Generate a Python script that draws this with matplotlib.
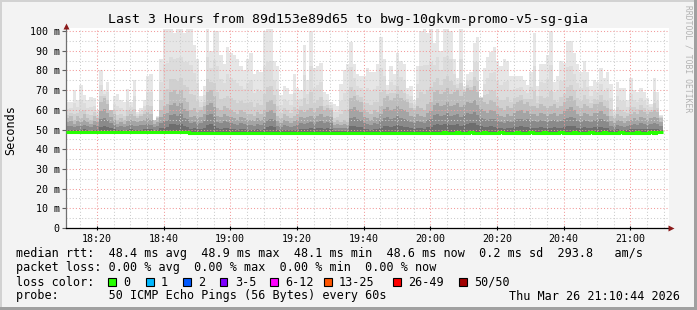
import numpy as np
import matplotlib
matplotlib.use("Agg")
import matplotlib.pyplot as plt
from matplotlib.patches import Rectangle
from matplotlib.ticker import FixedLocator, MultipleLocator, FuncFormatter

plt.rcParams['font.family'] = ['DejaVu Sans Mono']

# ---------------- data ----------------
title = "Last 3 Hours from 89d153e89d65 to bwg-10gkvm-promo-v5-sg-gia"
start_time = "18:10:44"
x_tick_labels = ["18:20", "18:40", "19:00", "19:20", "19:40", "20:00", "20:20", "20:40", "21:00"]
y_ticks = [0, 10, 20, 30, 40, 50, 60, 70, 80, 90, 100]

# max ping per 1-minute column (ms)
tops = [64, 64, 70, 65, 72.5, 67.5, 65, 66.5, 66, 60,
        80, 70, 74, 60, 67, 68, 65, 64, 70.5, 64,
        75, 59, 61, 65, 77, 78, 55, 57, 86, 101,
        101, 101, 99, 101, 101, 99, 101, 101, 93, 86,
        67, 72, 101, 90, 100, 100, 88, 83, 92, 89,
        88, 86, 82, 80, 86, 89, 78, 80, 79, 100,
        101, 101, 85, 82, 67.5, 72, 71, 68, 78, 71,
        70, 93, 75, 100, 81, 82, 84, 69, 68, 64,
        63, 62, 73, 80, 83, 94.5, 83.5, 78, 77, 77,
        81, 79, 79, 83, 97, 86, 72.5, 82, 78, 89,
        85, 83, 71, 72, 65, 82, 100, 101, 99, 101,
        94, 101, 90, 101, 101, 100, 86, 76, 101, 72,
        78, 79, 94, 97, 66.5, 81, 87, 89.5, 92, 85,
        82, 86, 85, 77, 77, 77, 77, 75, 72.5, 79,
        99, 72, 83, 83, 88, 100, 74, 77, 85, 84,
        95, 95, 89, 83, 79, 85, 79, 72, 75, 74,
        81, 76, 79, 73, 60, 74, 71, 71, 65, 76,
        70, 69, 71, 69, 66, 63, 76, 69, 57.5]

# upper edge of the dense (dark) part of the smoke per column (ms)
dense = [56, 57, 55, 57, 56, 58, 56, 55, 57, 56,
         64, 66, 63, 60, 58, 55, 56, 55, 57, 58,
         57, 56, 57, 58, 59, 58, 57, 56, 60, 62,
         63, 69, 70, 68, 70, 66, 64, 60, 61, 59,
         60, 62, 69, 70, 67, 61, 60, 62, 61, 60,
         59, 58, 60, 59, 58, 58, 57, 59, 58, 60,
         64, 65, 63, 57, 56, 58, 57, 56, 57, 58,
         60, 59, 60, 61, 59, 61, 62, 60, 61, 60,
         54, 55, 54, 55, 54, 66, 67, 65, 64, 60,
         59, 58, 60, 59, 62, 66, 67, 65, 66, 68,
         66, 65, 64, 61, 60, 62, 61, 60, 63, 64,
         69, 70, 68, 69, 71, 68, 69, 70, 67, 69,
         71, 70, 72, 69, 66, 64, 63, 65, 64, 62,
         61, 60, 62, 61, 63, 64, 65, 63, 64, 62,
         62, 61, 63, 62, 61, 62, 63, 61, 62, 64,
         66, 67, 65, 62, 61, 63, 62, 61, 63, 63,
         64, 62, 61, 57, 56, 58, 57, 56, 57, 58,
         59, 58, 60, 59, 58, 59, 60, 59, 56]

# median rtt per column (ms)
median = [48.5, 48.5, 48.6, 48.5, 48.5, 48.5, 48.5, 48.5, 48.6, 48.5,
          48.5, 48.5, 48.5, 48.5, 48.5, 48.6, 48.5, 48.5, 48.5, 48.5,
          48.5, 48.5, 48.6, 48.5, 48.5, 48.5, 48.5, 48.5, 48.5, 48.5,
          48.6, 48.5, 48.5, 48.5, 48.5, 48.5, 48.5, 48.4, 48.4, 48.4,
          48.3, 48.3, 48.3, 48.3, 48.3, 48.4, 48.3, 48.3, 48.3, 48.3,
          48.3, 48.3, 48.3, 48.4, 48.3, 48.3, 48.3, 48.3, 48.3, 48.3,
          48.3, 48.4, 48.3, 48.3, 48.3, 48.3, 48.3, 48.3, 48.1, 48.3,
          48.3, 48.3, 48.4, 48.3, 48.3, 48.3, 48.3, 48.3, 48.3, 48.3,
          48.3, 48.3, 48.4, 48.3, 48.3, 48.3, 48.3, 48.3, 48.3, 48.3,
          48.4, 48.3, 48.3, 48.3, 48.3, 48.3, 48.3, 48.3, 48.4, 48.3,
          48.3, 48.3, 48.3, 48.3, 48.3, 48.3, 48.3, 48.4, 48.4, 48.4,
          48.4, 48.4, 48.4, 48.5, 48.4, 48.4, 48.4, 48.5, 48.4, 48.4,
          48.4, 48.9, 48.4, 48.4, 48.4, 48.5, 48.4, 48.4, 48.4, 48.4,
          48.5, 48.4, 48.4, 48.4, 48.4, 48.5, 48.4, 48.4, 48.4, 48.5,
          48.4, 48.4, 48.4, 48.5, 48.4, 48.4, 48.4, 48.4, 48.5, 48.4,
          48.4, 48.4, 48.5, 48.4, 48.4, 48.4, 48.4, 48.5, 48.4, 48.4,
          48.4, 48.5, 48.4, 48.4, 48.4, 48.4, 48.5, 48.4, 48.4, 48.4,
          48.4, 48.5, 48.4, 48.4, 48.4, 48.5, 48.4, 48.5, 48.6]

legend_rtt = "median rtt:  48.4 ms avg  48.9 ms max  48.1 ms min  48.6 ms now  0.2 ms sd  293.8   am/s"
legend_loss = "packet loss: 0.00 % avg  0.00 % max  0.00 % min  0.00 % now"
loss_labels = ["0", "1", "2", "3-5", "6-12", "13-25", "26-49", "50/50"]
loss_colors = ["#26ff00", "#00b8ff", "#0059ff", "#7e00ff", "#ff00ff", "#ff5500", "#ff0000", "#a10000"]
probe_text = "probe:       50 ICMP Echo Pings (56 Bytes) every 60s"
timestamp = "Thu Mar 26 21:10:44 2026"

# ---------------- figure ----------------
W, H = 697, 310
fig = plt.figure(figsize=(W / 100, H / 100), dpi=100)
fig.patch.set_facecolor('#f3f3f3')

def fx(px):
    return px / W

def fy(py):
    return 1 - py / H

ax_l, ax_r, ax_t, ax_b = 66, 669, 28, 228
ax = fig.add_axes([fx(ax_l), fy(ax_b), (ax_r - ax_l) / W, (ax_b - ax_t) / H])
ax.set_facecolor('white')

h, m, s = [int(v) for v in start_time.split(":")]
t0 = h * 60 + m + s / 60.0
px_per_min = 600 / 180.0
ax.set_xlim(t0, t0 + (ax_r - ax_l) / px_per_min)
ymax = (ax_b - ax_t) / 1.97
ax.set_ylim(0, ymax)

tops_a = np.array(tops, dtype=float)
dense_a = np.minimum(np.array(dense, dtype=float), tops_a)
med_a = np.array(median, dtype=float)
n = len(tops_a)
edges = t0 + np.arange(n + 1)
base = med_a - 0.6

# smoke layers (lightest/tallest first)
layers = [
    (tops_a, '#e6e6e6'),
    (dense_a + (tops_a - dense_a) * 0.55, '#dcdcdc'),
    (dense_a + (tops_a - dense_a) * 0.2, '#d0d0d0'),
    (dense_a, '#bdbdbd'),
    (base + (dense_a - base) * 0.7, '#a4a4a4'),
    (base + (dense_a - base) * 0.45, '#8a8a8a'),
    (base + (dense_a - base) * 0.22, '#6e6e6e'),
]
for upper, col in layers:
    ax.stairs(upper, edges, baseline=base, fill=True, color=col, lw=0, zorder=1)

ax.stairs(med_a, edges, baseline=None, color='#26ff00', lw=2.2, zorder=3)

# ticks & grid
xt = [int(l.split(":")[0]) * 60 + int(l.split(":")[1]) for l in x_tick_labels]
ax.xaxis.set_major_locator(FixedLocator(xt))
ax.xaxis.set_major_formatter(FuncFormatter(lambda v, p: "%02d:%02d" % (int(v) // 60, int(v) % 60)))
ax.xaxis.set_minor_locator(MultipleLocator(5))
ax.yaxis.set_major_locator(FixedLocator(y_ticks))
ax.yaxis.set_major_formatter(FuncFormatter(lambda v, p: "0" if v == 0 else "%d m" % v))
ax.yaxis.set_minor_locator(MultipleLocator(5))

ax.set_axisbelow('line')
ax.grid(which='major', color='#f29a9a', linestyle=(0, (1, 2)), linewidth=0.75)
ax.grid(which='minor', color='#cdcdcd', linestyle=(0, (1, 2)), linewidth=0.75)

ax.tick_params(axis='both', which='major', labelsize=7.2, colors='#000000')
ax.tick_params(axis='x', which='major', length=2.5, direction='inout', pad=3, color='#000000')
ax.tick_params(axis='y', which='major', length=3, direction='out', pad=1.5, color='#606060')
ax.tick_params(which='minor', length=0)

for sp in ['top', 'right']:
    ax.spines[sp].set_visible(False)
ax.spines['left'].set_color('#707070')
ax.spines['left'].set_linewidth(0.9)
ax.spines['bottom'].set_color('#000000')
ax.spines['bottom'].set_linewidth(0.9)

# axis arrows
ax.plot([0], [1.0 + 2.5 / (ax_b - ax_t)], marker='^', ms=4.5, color='#8b1a1a', transform=ax.transAxes,
        clip_on=False, zorder=5, mec='none')
ax.plot([1.0 + 1.5 / (ax_r - ax_l)], [0], marker='>', ms=4.5, color='#8b1a1a', transform=ax.transAxes,
        clip_on=False, zorder=5, mec='none')

# texts
fig.text(fx(348), fy(19), title, ha='center', va='center', fontsize=9.5, color='black')
fig.text(fx(11), fy(130), "Seconds", rotation=90, ha='center', va='center', fontsize=8.5)
fig.text(fx(688), fy(59), "RRDTOOL / TOBI OETIKER", rotation=270, ha='center', va='center',
         fontsize=5.8, color='#b2b2b2')

lfs = 8.5
fig.text(fx(16), fy(254), legend_rtt, ha='left', va='center', fontsize=lfs)
fig.text(fx(16), fy(268), legend_loss, ha='left', va='center', fontsize=lfs)
fig.text(fx(16), fy(282), "loss color:", ha='left', va='center', fontsize=lfs)
sq_x = [108, 146, 183, 220, 270, 324, 393, 459]
for x0, lab, col in zip(sq_x, loss_labels, loss_colors):
    fig.add_artist(Rectangle((fx(x0), fy(286)), 7.5 / W, 8 / H, transform=fig.transFigure,
                             facecolor=col, edgecolor='black', lw=0.8))
    fig.text(fx(x0 + 15), fy(282), lab, ha='left', va='center', fontsize=lfs)
fig.text(fx(16), fy(296), probe_text, ha='left', va='center', fontsize=lfs)
fig.text(fx(680), fy(296), timestamp, ha='right', va='center', fontsize=lfs)

# frame border
fig.add_artist(Rectangle((0, fy(2)), 1, 2 / H, transform=fig.transFigure, facecolor='#d2d2d2', lw=0))
fig.add_artist(Rectangle((0, 0), 2 / W, 1, transform=fig.transFigure, facecolor='#d2d2d2', lw=0))
fig.add_artist(Rectangle((0, 0), 1, 3 / H, transform=fig.transFigure, facecolor='#a0a0a0', lw=0))
fig.add_artist(Rectangle((1 - 3 / W, 0), 3 / W, 1, transform=fig.transFigure, facecolor='#a0a0a0', lw=0))

fig.savefig("out.png", dpi=100, facecolor=fig.get_facecolor())
